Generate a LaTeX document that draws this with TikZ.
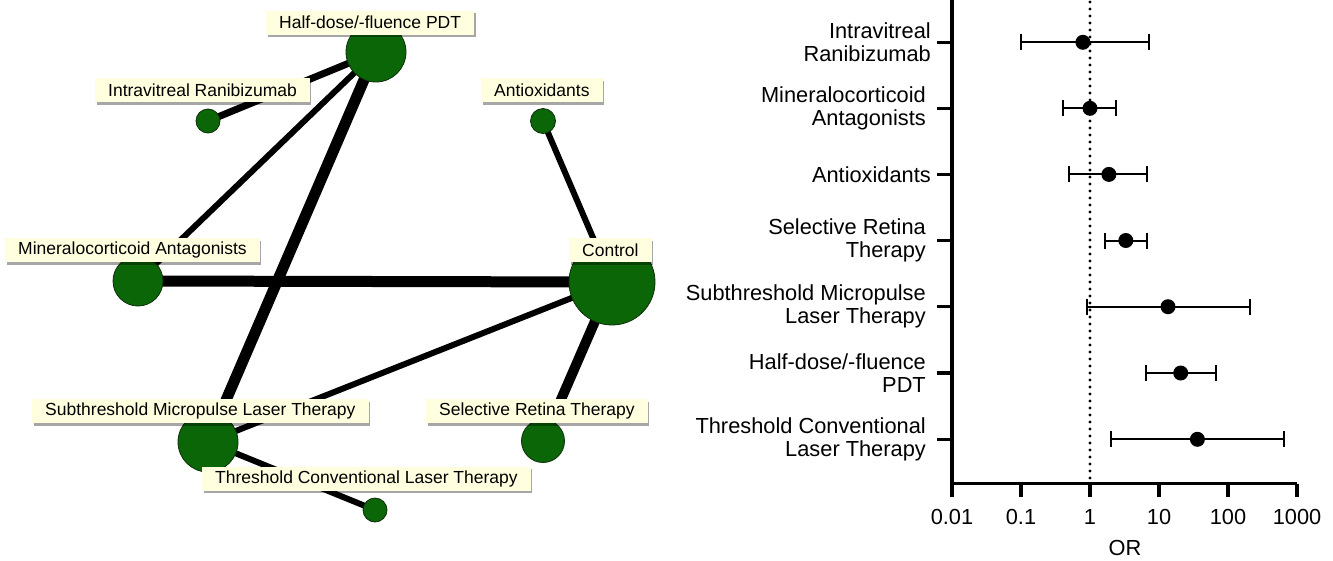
\documentclass[tikz,border=0pt]{standalone}
\usepackage{fontspec}
\setmainfont{Liberation Sans}
\usetikzlibrary{shadows}
\definecolor{nodegreen}{RGB}{11,102,8}
\definecolor{nodeedge}{RGB}{15,45,10}
\definecolor{lblfill}{RGB}{255,255,224}
\pgfdeclarelayer{bg}
\pgfsetlayers{bg,main}
\begin{document}
\begin{tikzpicture}[x=1pt, y=-1pt,
  trt/.style={circle, draw=nodeedge, line width=0.8pt, fill=nodegreen, inner sep=0pt},
  lbl/.style={rectangle, fill=lblfill, inner xsep=13pt, inner ysep=0pt, minimum height=24pt, anchor=west,
    font=\fontsize{17.5}{20}\selectfont,
    drop shadow={shadow xshift=1.5pt, shadow yshift=-2.5pt, opacity=0.35, fill=black}},
  link/.style={line width=#1, draw=black},
  ylab/.style={anchor=east, align=right, inner sep=0pt, font=\fontsize{21.8}{23}\selectfont},
  ticklab/.style={inner sep=0pt, font=\fontsize{21.8}{23}\selectfont},
  axisline/.style={line width=3.3pt, draw=black},
  ci/.style={line width=2pt, draw=black},
  pt/.style={circle, fill=black, inner sep=0pt, minimum size=15pt}]
\useasboundingbox (0,0) rectangle (1333,560);

% ---------------- network ----------------
\node[trt, minimum size=60pt] (pdt) at (376,52) {};
\node[trt, minimum size=24pt] (ivr) at (208,121) {};
\node[trt, minimum size=25pt] (aox) at (543,121) {};
\node[trt, minimum size=50pt] (mra) at (138,281) {};
\node[trt, minimum size=86pt] (ctl) at (612,282) {};
\node[trt, minimum size=60pt] (sml) at (208,442) {};
\node[trt, minimum size=43pt] (srt) at (543,441) {};
\node[trt, minimum size=24pt] (tcl) at (375,510) {};

\begin{pgfonlayer}{bg}
\draw[link=7pt] (pdt.center) -- (ivr.center);
\draw[link=6pt] (pdt.center) -- (mra.center);
\draw[link=11pt] (pdt.center) -- (sml.center);
\draw[link=6pt] (aox.center) -- (ctl.center);
\draw[link=11pt] (mra.center) -- (ctl.center);
\draw[link=6pt] (ctl.center) -- (sml.center);
\draw[link=10pt] (ctl.center) -- (srt.center);
\draw[link=6pt] (sml.center) -- (tcl.center);
\end{pgfonlayer}

\node[lbl] (lpdt) at (266,22.5) {Half-dose/-fluence PDT\hspace{10pt}};
\node[lbl] (livr) at (95,90) {Intravitreal Ranibizumab\hspace{9pt}};
\node[lbl] (laox) at (481,90) {Antioxidants\hspace{4pt}};
\node[lbl] (lmra) at (5,250) {Mineralocorticoid Antagonists\hspace{12pt}};
\node[lbl] (lctl) at (569,250) {Control};
\node[lbl] (lsml) at (32,411) {Subthreshold Micropulse Laser Therapy\hspace{12pt}};
\node[lbl] (lsrt) at (426,411) {Selective Retina Therapy\hspace{10pt}};
\node[lbl] (ltcl) at (202,478.5) {Threshold Conventional Laser Therapy\hspace{12pt}};

% ---------------- forest plot ----------------
\coordinate (ytop) at (952,0);
\coordinate (orig) at (952,483.5);
\coordinate (xend) at (1297,483.5);
\draw[axisline] (ytop) -- (orig) -- (xend);

\foreach \v/\lab [count=\i] in {952/0.01, 1021/0.1, 1090/1, 1159/10, 1228/100, 1297/1000} {
  \coordinate (t\i) at (\v,483.5);
  \coordinate (tb\i) at (\v,497);
  \draw[axisline] (t\i) -- (tb\i);
  \node[ticklab] (tl\i) at (\v,517) {\lab};
}
\node[ticklab] (orlab) at (1125,548) {OR};

\coordinate (d0) at (1090,2);
\coordinate (d1) at (1090,482);
\draw[line width=3.3pt, line cap=round, dash pattern=on 0pt off 7pt] (d0) -- (d1);

\foreach \y/\lo/\pv/\hi [count=\i] in {
  42.3/1021/1082.9/1148.7,
  108.3/1062.5/1090/1115.7,
  174.4/1068.6/1108.9/1147.4,
  240.5/1105.2/1125.8/1147,
  306.7/1086.8/1168/1249.8,
  373/1146.1/1180.7/1216,
  439.3/1110.8/1197.4/1284.1} {
  \coordinate (yt\i) at (937,\y);
  \coordinate (ya\i) at (952,\y);
  \draw[axisline] (yt\i) -- (ya\i);
  \coordinate (lo\i) at (\lo,\y);
  \coordinate (hi\i) at (\hi,\y);
  \draw[ci] (lo\i) -- (hi\i);
  \draw[ci] ([yshift=8pt]lo\i) -- ([yshift=-8pt]lo\i);
  \draw[ci] ([yshift=8pt]hi\i) -- ([yshift=-8pt]hi\i);
  \node[pt] (p\i) at (\pv,\y) {};
}

\node[ylab] (r1) at (931,42.3) {Intravitreal\\Ranibizumab};
\node[ylab] (r2) at (926,108.3) {Mineralocorticoid\\Antagonists};
\node[ylab] (r3) at (931,174.4) {Antioxidants};
\node[ylab] (r4) at (926,240.5) {Selective Retina\\Therapy};
\node[ylab] (r5) at (926,306.7) {Subthreshold Micropulse\\Laser Therapy};
\node[ylab] (r6) at (926,373) {Half-dose/-fluence\\PDT};
\node[ylab] (r7) at (926,439.3) {Threshold Conventional\\Laser Therapy};
\end{tikzpicture}
\end{document}
